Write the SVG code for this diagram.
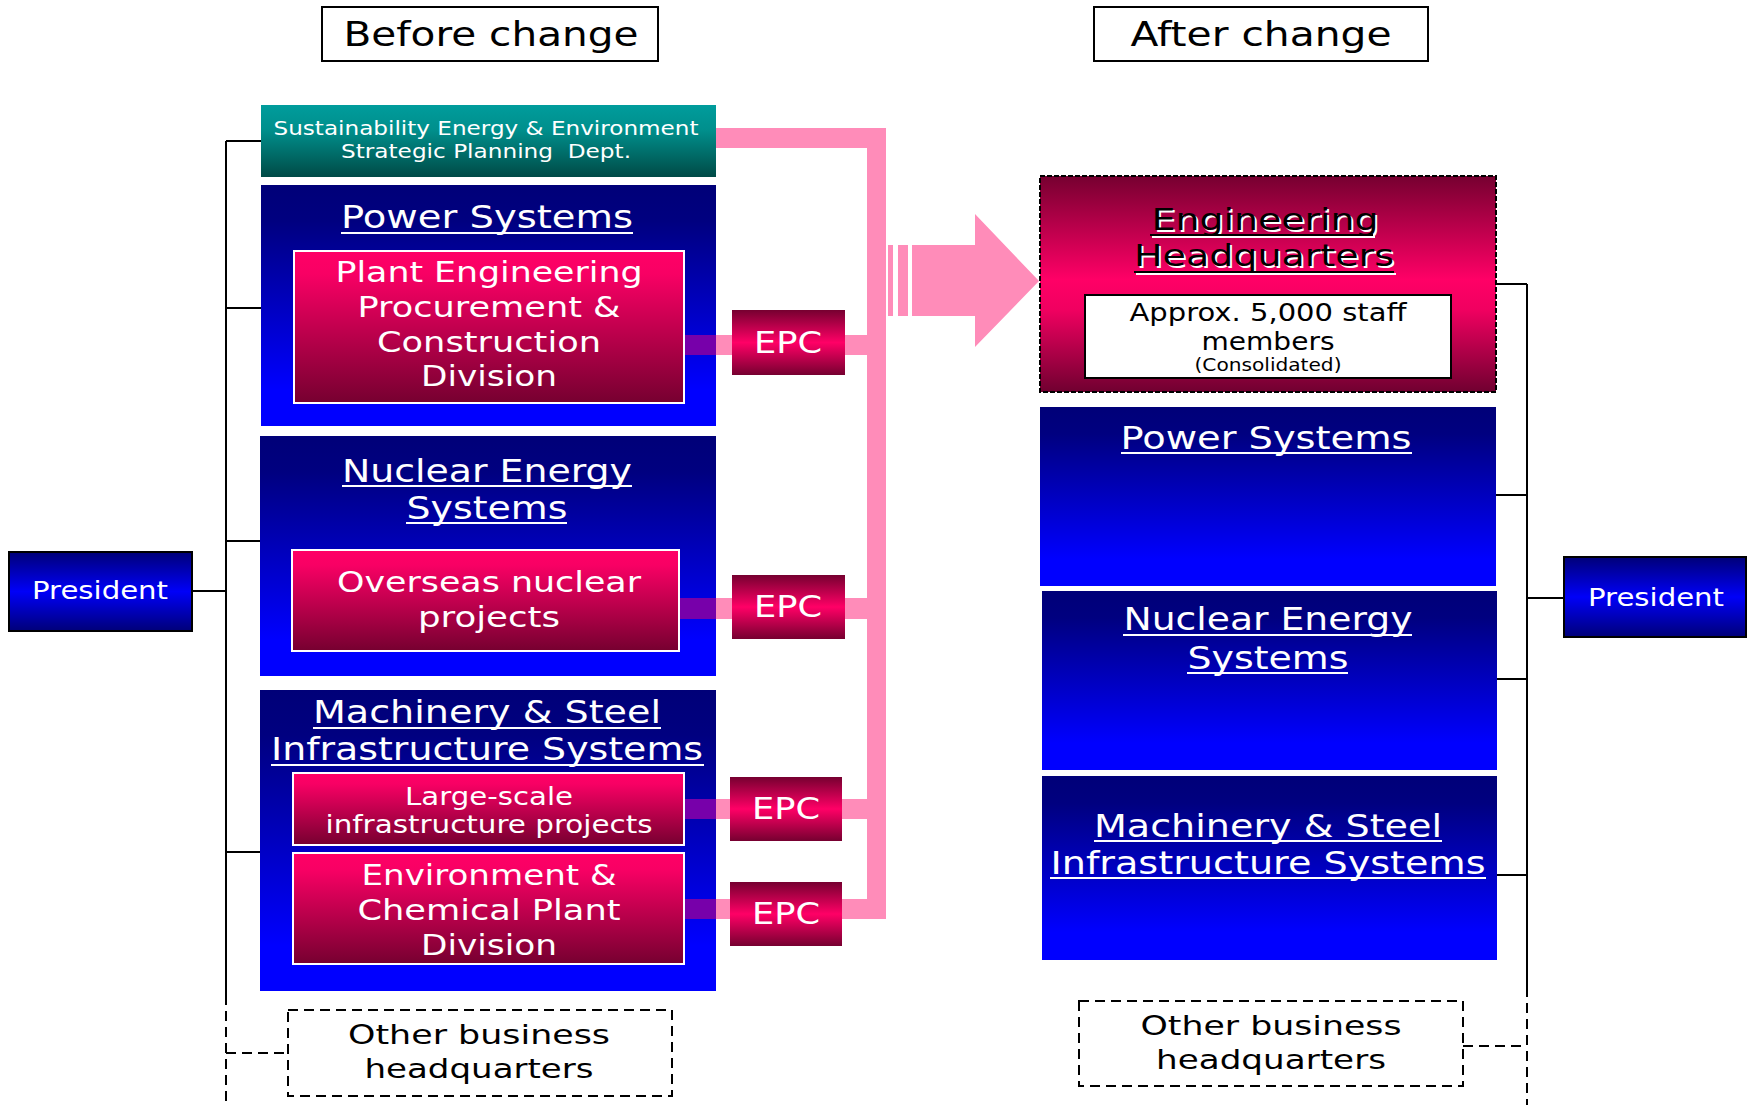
<svg xmlns="http://www.w3.org/2000/svg" width="1748" height="1111" viewBox="0 0 1748 1111">
<defs>
<linearGradient id="gTeal" x1="0" y1="0" x2="0" y2="1"><stop offset="0" stop-color="#009C9C"/><stop offset="0.35" stop-color="#008F8C"/><stop offset="1" stop-color="#004A46"/></linearGradient>
<linearGradient id="gBlue" x1="0" y1="0" x2="0" y2="1"><stop offset="0" stop-color="#000078"/><stop offset="0.15" stop-color="#000080"/><stop offset="0.85" stop-color="#0000FF"/><stop offset="1" stop-color="#0000FF"/></linearGradient>
<linearGradient id="gPink" x1="0" y1="0" x2="0" y2="1"><stop offset="0" stop-color="#FF0066"/><stop offset="0.15" stop-color="#F80064"/><stop offset="1" stop-color="#760030"/></linearGradient>
<linearGradient id="gMid" x1="0" y1="0" x2="0" y2="1"><stop offset="0" stop-color="#760030"/><stop offset="0.5" stop-color="#FF0066"/><stop offset="1" stop-color="#760030"/></linearGradient>
<linearGradient id="gHQ" x1="0" y1="0" x2="0" y2="1"><stop offset="0" stop-color="#760030"/><stop offset="0.48" stop-color="#FF0066"/><stop offset="0.62" stop-color="#F00060"/><stop offset="1" stop-color="#700030"/></linearGradient>
<linearGradient id="gPres" x1="0" y1="0" x2="0" y2="1"><stop offset="0" stop-color="#000078"/><stop offset="0.5" stop-color="#0000F8"/><stop offset="1" stop-color="#000078"/></linearGradient>
</defs>
<style>
text{font-family:"DejaVu Sans",Verdana,"Liberation Sans",sans-serif;text-anchor:middle}
.w{fill:#FFFFFF}
.k{fill:#000000}
.ul{stroke:#FFFFFF;stroke-width:2}
.ln{stroke:#000000;stroke-width:2;fill:none}
.dl{stroke:#000000;stroke-width:2;fill:none;stroke-dasharray:10 6}
.pk{fill:#FF8CB9}
.pu{fill:#7700AA}
.inner{fill:url(#gPink);stroke:#FFFFFF;stroke-width:2}
.blue{fill:url(#gBlue)}
.epc{fill:url(#gMid)}
</style>

<g id="connectors">
  <line class="ln" x1="226" y1="141" x2="226" y2="995"/>
  <line class="dl" x1="226" y1="995" x2="226" y2="1105"/>
  <line class="ln" x1="226" y1="141" x2="261" y2="141"/>
  <line class="ln" x1="226" y1="308" x2="261" y2="308"/>
  <line class="ln" x1="226" y1="541" x2="260" y2="541"/>
  <line class="ln" x1="226" y1="852" x2="260" y2="852"/>
  <line class="ln" x1="192" y1="591" x2="226" y2="591"/>
  <line class="dl" x1="226" y1="1053" x2="288" y2="1053"/>
  <line class="ln" x1="1527" y1="284" x2="1527" y2="987"/>
  <line class="dl" x1="1527" y1="987" x2="1527" y2="1105"/>
  <line class="ln" x1="1496" y1="284" x2="1527" y2="284"/>
  <line class="ln" x1="1496" y1="495" x2="1527" y2="495"/>
  <line class="ln" x1="1497" y1="679" x2="1527" y2="679"/>
  <line class="ln" x1="1497" y1="875" x2="1527" y2="875"/>
  <line class="ln" x1="1527" y1="598" x2="1564" y2="598"/>
  <line class="dl" x1="1463" y1="1046" x2="1527" y2="1046"/>
  <rect class="pk" x="714" y="128" width="160" height="20"/>
  <rect class="pk" x="867" y="128" width="19" height="791"/>
  <rect class="pk" x="714" y="335" width="153" height="20"/>
  <rect class="pk" x="714" y="598" width="153" height="21"/>
  <rect class="pk" x="714" y="799" width="153" height="20"/>
  <rect class="pk" x="714" y="899" width="153" height="20"/>
  <rect class="pk" x="888" y="245" width="5" height="71"/>
  <rect class="pk" x="898" y="245" width="10" height="71"/>
  <polygon class="pk" points="912,245 975,245 975,214 1039,281 975,347 975,316 912,316"/>
</g>

<g id="title-before">
  <rect x="322" y="7" width="336" height="54" fill="#FFFFFF" stroke="#000000" stroke-width="2"/>
  <text class="k" x="491" y="46" font-size="34" textLength="295" lengthAdjust="spacingAndGlyphs">Before change</text>
</g>
<g id="title-after">
  <rect x="1094" y="7" width="334" height="54" fill="#FFFFFF" stroke="#000000" stroke-width="2"/>
  <text class="k" x="1261" y="46" font-size="34" textLength="261" lengthAdjust="spacingAndGlyphs">After change</text>
</g>

<g id="president-left">
  <rect x="9" y="552" width="183" height="79" fill="url(#gPres)" stroke="#000000" stroke-width="2"/>
  <text class="w" x="100" y="599" font-size="24" textLength="136" lengthAdjust="spacingAndGlyphs">President</text>
</g>

<g id="sustainability">
  <rect x="261" y="105" width="455" height="72" fill="url(#gTeal)"/>
  <text class="w" x="486" y="135" font-size="20" textLength="425" lengthAdjust="spacingAndGlyphs">Sustainability Energy &amp; Environment</text>
  <text class="w" x="486" y="158" font-size="20" textLength="290" lengthAdjust="spacingAndGlyphs" xml:space="preserve">Strategic Planning  Dept.</text>
</g>

<g id="power-before">
  <rect class="blue" x="261" y="185" width="455" height="241"/>
  <text class="w" x="487" y="228" font-size="32" textLength="292" lengthAdjust="spacingAndGlyphs">Power Systems</text>
  <line class="ul" x1="341" y1="233" x2="633" y2="233"/>
  <rect class="pu" x="684" y="335" width="32" height="20"/>
  <rect class="inner" x="294" y="251" width="390" height="152"/>
  <text class="w" x="489" y="282" font-size="29" textLength="307" lengthAdjust="spacingAndGlyphs">Plant Engineering</text>
  <text class="w" x="489" y="317" font-size="29" textLength="263" lengthAdjust="spacingAndGlyphs">Procurement &amp;</text>
  <text class="w" x="489" y="352" font-size="29" textLength="224" lengthAdjust="spacingAndGlyphs">Construction</text>
  <text class="w" x="489" y="386" font-size="29" textLength="136" lengthAdjust="spacingAndGlyphs">Division</text>
</g>
<g id="epc-1">
  <rect class="epc" x="732" y="310" width="113" height="65"/>
  <text class="w" x="788" y="353" font-size="30" textLength="68" lengthAdjust="spacingAndGlyphs">EPC</text>
</g>

<g id="nuclear-before">
  <rect class="blue" x="260" y="436" width="456" height="240"/>
  <text class="w" x="487" y="482" font-size="32" textLength="290" lengthAdjust="spacingAndGlyphs">Nuclear Energy</text>
  <line class="ul" x1="342" y1="486" x2="632" y2="486"/>
  <text class="w" x="487" y="519" font-size="32" textLength="161" lengthAdjust="spacingAndGlyphs">Systems</text>
  <line class="ul" x1="406" y1="523" x2="567" y2="523"/>
  <rect class="pu" x="679" y="598" width="37" height="21"/>
  <rect class="inner" x="292" y="550" width="387" height="101"/>
  <text class="w" x="489" y="592" font-size="29" textLength="304" lengthAdjust="spacingAndGlyphs">Overseas nuclear</text>
  <text class="w" x="489" y="627" font-size="29" textLength="142" lengthAdjust="spacingAndGlyphs">projects</text>
</g>
<g id="epc-2">
  <rect class="epc" x="732" y="575" width="113" height="64"/>
  <text class="w" x="788" y="617" font-size="30" textLength="68" lengthAdjust="spacingAndGlyphs">EPC</text>
</g>

<g id="machinery-before">
  <rect class="blue" x="260" y="690" width="456" height="301"/>
  <text class="w" x="487" y="723" font-size="32" textLength="348" lengthAdjust="spacingAndGlyphs">Machinery &amp; Steel</text>
  <line class="ul" x1="313" y1="728" x2="661" y2="728"/>
  <text class="w" x="487" y="760" font-size="32" textLength="432" lengthAdjust="spacingAndGlyphs">Infrastructure Systems</text>
  <line class="ul" x1="271" y1="765" x2="704" y2="765"/>
  <rect class="pu" x="684" y="799" width="32" height="20"/>
  <rect class="pu" x="684" y="899" width="32" height="20"/>
  <rect class="inner" x="293" y="773" width="391" height="72"/>
  <text class="w" x="489" y="805" font-size="24" textLength="168" lengthAdjust="spacingAndGlyphs">Large-scale</text>
  <text class="w" x="489" y="833" font-size="24" textLength="327" lengthAdjust="spacingAndGlyphs">infrastructure projects</text>
  <rect class="inner" x="293" y="853" width="391" height="111"/>
  <text class="w" x="489" y="885" font-size="29" textLength="255" lengthAdjust="spacingAndGlyphs">Environment &amp;</text>
  <text class="w" x="489" y="920" font-size="29" textLength="263" lengthAdjust="spacingAndGlyphs">Chemical Plant</text>
  <text class="w" x="489" y="955" font-size="29" textLength="136" lengthAdjust="spacingAndGlyphs">Division</text>
</g>
<g id="epc-3">
  <rect class="epc" x="730" y="777" width="112" height="64"/>
  <text class="w" x="786" y="819" font-size="30" textLength="68" lengthAdjust="spacingAndGlyphs">EPC</text>
</g>
<g id="epc-4">
  <rect class="epc" x="730" y="882" width="112" height="64"/>
  <text class="w" x="786" y="924" font-size="30" textLength="68" lengthAdjust="spacingAndGlyphs">EPC</text>
</g>

<g id="other-before">
  <rect x="288" y="1010" width="384" height="86" fill="#FFFFFF" stroke="#000000" stroke-width="2" stroke-dasharray="10 6"/>
  <text class="k" x="479" y="1044" font-size="27" textLength="262" lengthAdjust="spacingAndGlyphs">Other business</text>
  <text class="k" x="479" y="1078" font-size="27" textLength="229" lengthAdjust="spacingAndGlyphs">headquarters</text>
</g>

<g id="engineering-hq">
  <rect x="1040" y="176" width="456" height="216" fill="url(#gHQ)" stroke="#000000" stroke-width="2" stroke-dasharray="5 2"/>
  <text class="w" x="1267" y="232" font-size="30" textLength="227" lengthAdjust="spacingAndGlyphs">Engineering</text>
  <line class="ul" x1="1152" y1="237" x2="1375" y2="237"/>
  <text class="k" x="1265" y="230" font-size="30" textLength="227" lengthAdjust="spacingAndGlyphs">Engineering</text>
  <line x1="1150" y1="235" x2="1373" y2="235" stroke="#000000" stroke-width="2"/>
  <text class="w" x="1266" y="268" font-size="30" textLength="260" lengthAdjust="spacingAndGlyphs">Headquarters</text>
  <line class="ul" x1="1136" y1="274" x2="1396" y2="274"/>
  <text class="k" x="1264" y="266" font-size="30" textLength="260" lengthAdjust="spacingAndGlyphs">Headquarters</text>
  <line x1="1134" y1="272" x2="1394" y2="272" stroke="#000000" stroke-width="2"/>
  <rect x="1085" y="295" width="366" height="83" fill="#FFFFFF" stroke="#000000" stroke-width="2"/>
  <text class="k" x="1268" y="321" font-size="25" textLength="277" lengthAdjust="spacingAndGlyphs">Approx. 5,000 staff</text>
  <text class="k" x="1268" y="350" font-size="25" textLength="133" lengthAdjust="spacingAndGlyphs">members</text>
  <text class="k" x="1268" y="371" font-size="17" textLength="147" lengthAdjust="spacingAndGlyphs">(Consolidated)</text>
</g>

<g id="power-after">
  <rect class="blue" x="1040" y="407" width="456" height="179"/>
  <text class="w" x="1266" y="449" font-size="32" textLength="291" lengthAdjust="spacingAndGlyphs">Power Systems</text>
  <line class="ul" x1="1121" y1="453" x2="1412" y2="453"/>
</g>
<g id="nuclear-after">
  <rect class="blue" x="1042" y="591" width="455" height="179"/>
  <text class="w" x="1268" y="630" font-size="32" textLength="289" lengthAdjust="spacingAndGlyphs">Nuclear Energy</text>
  <line class="ul" x1="1123" y1="635" x2="1412" y2="635"/>
  <text class="w" x="1268" y="669" font-size="32" textLength="161" lengthAdjust="spacingAndGlyphs">Systems</text>
  <line class="ul" x1="1187" y1="673" x2="1348" y2="673"/>
</g>
<g id="machinery-after">
  <rect class="blue" x="1042" y="776" width="455" height="184"/>
  <text class="w" x="1268" y="837" font-size="32" textLength="348" lengthAdjust="spacingAndGlyphs">Machinery &amp; Steel</text>
  <line class="ul" x1="1094" y1="841" x2="1442" y2="841"/>
  <text class="w" x="1268" y="874" font-size="32" textLength="435" lengthAdjust="spacingAndGlyphs">Infrastructure Systems</text>
  <line class="ul" x1="1050" y1="878" x2="1486" y2="878"/>
</g>

<g id="president-right">
  <rect x="1564" y="557" width="182" height="80" fill="url(#gPres)" stroke="#000000" stroke-width="2"/>
  <text class="w" x="1656" y="606" font-size="24" textLength="136" lengthAdjust="spacingAndGlyphs">President</text>
</g>

<g id="other-after">
  <rect x="1079" y="1001" width="384" height="85" fill="#FFFFFF" stroke="#000000" stroke-width="2" stroke-dasharray="10 6"/>
  <text class="k" x="1271" y="1035" font-size="27" textLength="261" lengthAdjust="spacingAndGlyphs">Other business</text>
  <text class="k" x="1271" y="1069" font-size="27" textLength="230" lengthAdjust="spacingAndGlyphs">headquarters</text>
</g>
</svg>
